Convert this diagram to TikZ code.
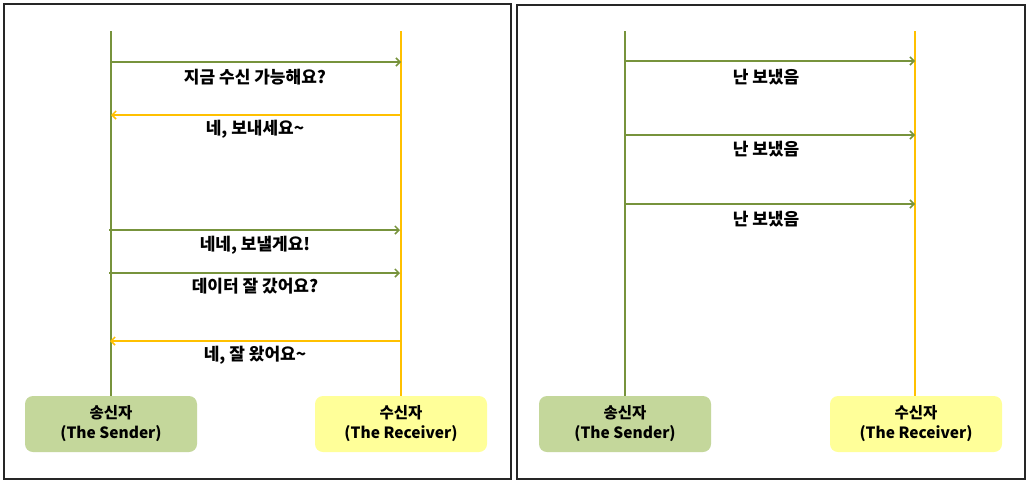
\documentclass[tikz,border=0pt]{standalone}
\usepackage{fontspec}
\setmainfont{Noto Sans CJK KR}
\usetikzlibrary{positioning,arrows.meta}
\definecolor{sendgreen}{RGB}{119,147,60}
\definecolor{sendfill}{RGB}{196,215,155}
\definecolor{recvyellow}{RGB}{255,192,0}
\definecolor{recvfill}{RGB}{255,255,153}
\tikzset{
  panel/.style={
    draw=black!85,
    fill=white,
    line width=1.5pt,
  },
  actor box/.style={
    fill=#1,
    rounded corners=8pt,
    minimum width=172pt,
    minimum height=56pt,
    align=center,
    font=\bfseries\fontsize{15.5}{20}\selectfont,
  },
  lifeline/.style={
    draw=#1,
    line width=1.5pt,
  },
  message/.style={
    draw=#1,
    line width=1.5pt,
    -{Straight Barb[length=4pt,width=8pt]},
  },
  annotation/.style={
    anchor=center,
    font=\bfseries\fontsize{17}{20}\selectfont,
  }
}

\begin{document}
\begin{tikzpicture}[x=1pt,y=-1pt]
        \useasboundingbox (0,0) rectangle (1027,483);
        \draw [panel] (4,4) rectangle (511,479);
        \draw [panel] (517,5) rectangle (1025,479);

        % left: handshake
        \node [actor box=sendfill] (snd1) at (111,424) {송신자\\(The Sender)};
        \node [actor box=recvfill] (rcv1) at (401,424) {수신자\\(The Receiver)};
        \coordinate (snd1top) at (111,31);
        \coordinate (rcv1top) at (401,31);
        \draw [lifeline=sendgreen] (snd1top) -- (snd1.north);
        \draw [lifeline=recvyellow] (rcv1top) -- (rcv1.north);

        \coordinate (a1) at (111,62);  \coordinate (b1) at (401,62);
        \coordinate (a2) at (111,115); \coordinate (b2) at (401,115);
        \coordinate (a3) at (109,230); \coordinate (b3) at (400,230);
        \coordinate (a4) at (109,273); \coordinate (b4) at (400,273);
        \coordinate (a5) at (110,341); \coordinate (b5) at (400,341);

        \draw [message=sendgreen] (a1) -- (b1);
        \draw [message=recvyellow] (b2) -- (a2);
        \draw [message=sendgreen] (a3) -- (b3);
        \draw [message=sendgreen] (a4) -- (b4);
        \draw [message=recvyellow] (b5) -- (a5);

        \node [annotation] (t1) at (255,77) {지금 수신 가능해요?};
        \node [annotation] (t2) at (255,129) {네, 보내세요\textasciitilde};
        \node [annotation] (t3) at (255,245) {네네, 보낼게요!};
        \node [annotation] (t4) at (255,286) {데이터 잘 갔어요?};
        \node [annotation] (t5) at (255,355) {네, 잘 왔어요\textasciitilde};

        % right: no handshake
        \node [actor box=sendfill] (snd2) at (625,424) {송신자\\(The Sender)};
        \node [actor box=recvfill] (rcv2) at (916,424) {수신자\\(The Receiver)};
        \coordinate (snd2top) at (625,31);
        \coordinate (rcv2top) at (915,31);
        \draw [lifeline=sendgreen] (snd2top) -- (snd2top |- snd2.north);
        \draw [lifeline=recvyellow] (rcv2top) -- (rcv2top |- rcv2.north);

        \foreach \i/\y/\ty in {1/61/77, 2/135/149, 3/204/219} {
          \coordinate (c\i) at (625,\y);
          \coordinate (d\i) at (915,\y);
          \draw [message=sendgreen] (c\i) -- (d\i);
          \node [annotation] (u\i) at (766,\ty) {난 보냈음};
        }
      \end{tikzpicture}
\end{document}
